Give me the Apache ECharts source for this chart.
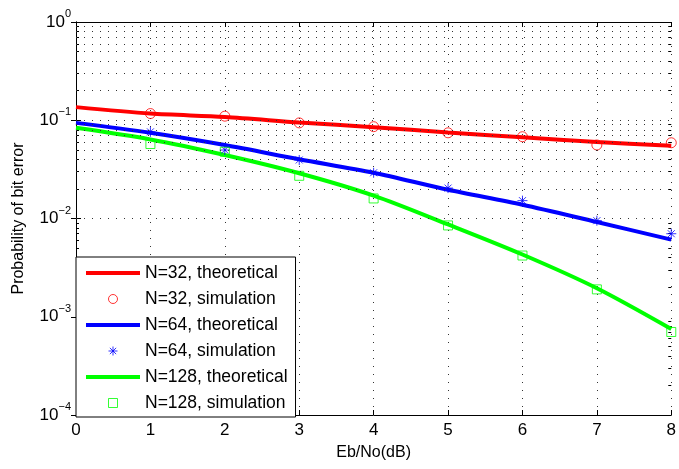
<!DOCTYPE html>
<html><head><meta charset="utf-8">
<script src="https://cdn.jsdelivr.net/npm/echarts@6/dist/echarts.min.js"></script>
<style>html,body{margin:0;padding:0;background:#fff}#c{width:679px;height:469px}</style>
</head><body><div id="c"></div>
<script>
// ---- data ----
const ebno = [0, 1, 2, 3, 4, 5, 6, 7, 8];
const simX = [1, 2, 3, 4, 5, 6, 7, 8];
const theo32  = [0.136, 0.117, 0.108, 0.095, 0.085, 0.075, 0.067, 0.060, 0.055];
const sim32   = [0.117, 0.110, 0.094, 0.086, 0.0745, 0.068, 0.056, 0.059];
const theo64  = [0.094, 0.0745, 0.0559, 0.0401, 0.0292, 0.0196, 0.0138, 0.0092, 0.0061];
const sim64   = [0.0762, 0.0498, 0.0394, 0.0292, 0.0204, 0.0152, 0.0095, 0.0070];
const theo128 = [0.0837, 0.0638, 0.0443, 0.0289, 0.0171, 0.0087, 0.0043, 0.00195, 0.00075];
const sim128  = [0.0573, 0.0478, 0.0272, 0.016, 0.0085, 0.0042, 0.0019, 0.0007];
const names = ['N=32, theoretical', 'N=32, simulation', 'N=64, theoretical', 'N=64, simulation', 'N=128, theoretical', 'N=128, simulation'];
const yDecades = [1e-4, 1e-3, 1e-2, 1e-1, 1];
const yMinor = [];
for (let d = 0; d < 4; d++) for (let m = 2; m <= 9; m++) yMinor.push(+(m * yDecades[d]).toPrecision(3));

const pair = (xs, ys) => xs.map((x, i) => [x, ys[i]]);
const FONT = '"Liberation Sans", Arial, sans-serif';
const gridDot = { type: [1, 7], color: '#333', width: 1 };
const STAR = 'path://M5,0L5,10M0,5L10,5M1.5,1.5L8.5,8.5M1.5,8.5L8.5,1.5';
const SQUARE = 'path://M0,0H10V10H0Z';
const CIRCLE = 'path://M10,5A5,5 0 1,1 0,5A5,5 0 1,1 10,5Z';
const BAR = 'path://M0,0H54V4H0Z';
const RED = '#ff0000', BLUE = '#0000ff', GREEN = '#00ff00';
const CLEAR = 'rgba(0,0,0,0)';

const chart = echarts.init(document.getElementById('c'), null, { renderer: 'canvas' });

const yBase = {
  type: 'log', logBase: 10, min: 1e-4, max: 1, gridIndex: 0,
  axisLine: { show: true, lineStyle: { color: '#000', width: 1 } },
  splitLine: { show: false }, minorTick: { show: false }
};
const expStr = v => { const e = Math.round(Math.log10(v)); return e < 0 ? '\u2212' + (-e) : '' + e; };

chart.setOption({
  animation: false,
  backgroundColor: '#fff',
  grid: { left: 76, right: 7, top: 22, bottom: 54, containLabel: false },
  legend: {
    orient: 'vertical', left: 76, top: 257,
    data: [
      { name: names[0], icon: BAR, itemStyle: { color: RED, borderWidth: 0 } },
      { name: names[1], icon: CIRCLE, itemStyle: { color: CLEAR, borderColor: RED, borderWidth: 1 } },
      { name: names[2], icon: BAR, itemStyle: { color: BLUE, borderWidth: 0 } },
      { name: names[3], icon: STAR, itemStyle: { color: CLEAR, borderColor: BLUE, borderWidth: 1 } },
      { name: names[4], icon: BAR, itemStyle: { color: GREEN, borderWidth: 0 } },
      { name: names[5], icon: SQUARE, itemStyle: { color: CLEAR, borderColor: GREEN, borderWidth: 1 } }
    ],
    symbolKeepAspect: true,
    backgroundColor: '#fff', borderColor: '#000', borderWidth: 1, borderRadius: 0,
    padding: [6, 8, 4, 10],
    itemWidth: 54, itemHeight: 9, itemGap: 6, itemTextGap: 6,
    textStyle: { fontFamily: FONT, fontSize: 17.5, color: '#000', lineHeight: 20 }
  },
  xAxis: [{
    type: 'value', min: 0, max: 8, interval: 1, position: 'bottom',
    name: 'Eb/No(dB)', nameLocation: 'middle', nameGap: 30,
    nameTextStyle: { fontFamily: FONT, fontSize: 16, color: '#000' },
    axisLine: { show: true, lineStyle: { color: '#000', width: 1 } },
    axisTick: { show: true, inside: true, length: 5, lineStyle: { color: '#000' } },
    axisLabel: { fontFamily: FONT, fontSize: 17, color: '#000', margin: 7 },
    splitLine: { show: true, lineStyle: gridDot }
  }, {
    type: 'value', min: 0, max: 8, interval: 1, position: 'top',
    axisLine: { show: true, lineStyle: { color: '#000', width: 1 } },
    axisTick: { show: true, inside: true, length: 5, lineStyle: { color: '#000' } },
    axisLabel: { show: false }, splitLine: { show: false }
  }],
  yAxis: [Object.assign({}, yBase, {
    position: 'left',
    name: 'Probability of bit error', nameLocation: 'middle', nameGap: 49, nameRotate: 90,
    nameTextStyle: { fontFamily: FONT, fontSize: 16, color: '#000' },
    axisTick: { show: true, inside: true, length: 5, lineStyle: { color: '#000' }, customValues: yDecades },
    axisLabel: {
      margin: 5, customValues: yDecades,
      formatter: v => '{a|10}{b|' + expStr(v) + '}',
      rich: {
        a: { fontFamily: FONT, fontSize: 17, color: '#000' },
        b: { fontFamily: FONT, fontSize: 11, color: '#000', padding: [0, 0, 16, 0] }
      }
    }
  }), Object.assign({}, yBase, {
    position: 'right',
    axisTick: { show: true, inside: true, length: 5, lineStyle: { color: '#000' }, customValues: yDecades },
    axisLabel: { show: false }
  }), Object.assign({}, yBase, {
    position: 'left', axisLine: { show: false },
    axisTick: { show: true, inside: true, length: 3, lineStyle: { color: '#000' }, customValues: yMinor },
    axisLabel: { show: false }
  }), Object.assign({}, yBase, {
    position: 'right', axisLine: { show: false },
    axisTick: { show: true, inside: true, length: 3, lineStyle: { color: '#000' }, customValues: yMinor },
    axisLabel: { show: false }
  })],
  series: [
    {
      name: 'grid', type: 'line', data: [], z: 1, silent: true,
      markLine: {
        silent: true, symbol: ['none', 'none'], label: { show: false },
        lineStyle: gridDot, animation: false,
        data: yMinor.concat(yDecades.slice(1, 4)).map(v => ({ yAxis: v }))
      }
    },
    { name: names[0], type: 'line', data: pair(ebno, theo32), showSymbol: false, symbol: 'none', smooth: 0.3,
      lineStyle: { color: RED, width: 4 }, itemStyle: { color: RED }, z: 3 },
    { name: names[1], type: 'scatter', data: pair(simX, sim32), symbol: CIRCLE, symbolSize: 10,
      itemStyle: { color: CLEAR, borderColor: RED, borderWidth: 1 }, z: 4 },
    { name: names[2], type: 'line', data: pair(ebno, theo64), showSymbol: false, symbol: 'none', smooth: 0.3,
      lineStyle: { color: BLUE, width: 4 }, itemStyle: { color: BLUE }, z: 3 },
    { name: names[3], type: 'scatter', data: pair(simX, sim64), symbol: STAR, symbolSize: 10,
      itemStyle: { color: CLEAR, borderColor: BLUE, borderWidth: 1 }, z: 4 },
    { name: names[4], type: 'line', data: pair(ebno, theo128), showSymbol: false, symbol: 'none', smooth: 0.3,
      lineStyle: { color: GREEN, width: 4 }, itemStyle: { color: GREEN }, z: 3 },
    { name: names[5], type: 'scatter', data: pair(simX, sim128), symbol: SQUARE, symbolSize: 9,
      itemStyle: { color: CLEAR, borderColor: GREEN, borderWidth: 1 }, z: 4 }
  ]
});
</script>
</body></html>
